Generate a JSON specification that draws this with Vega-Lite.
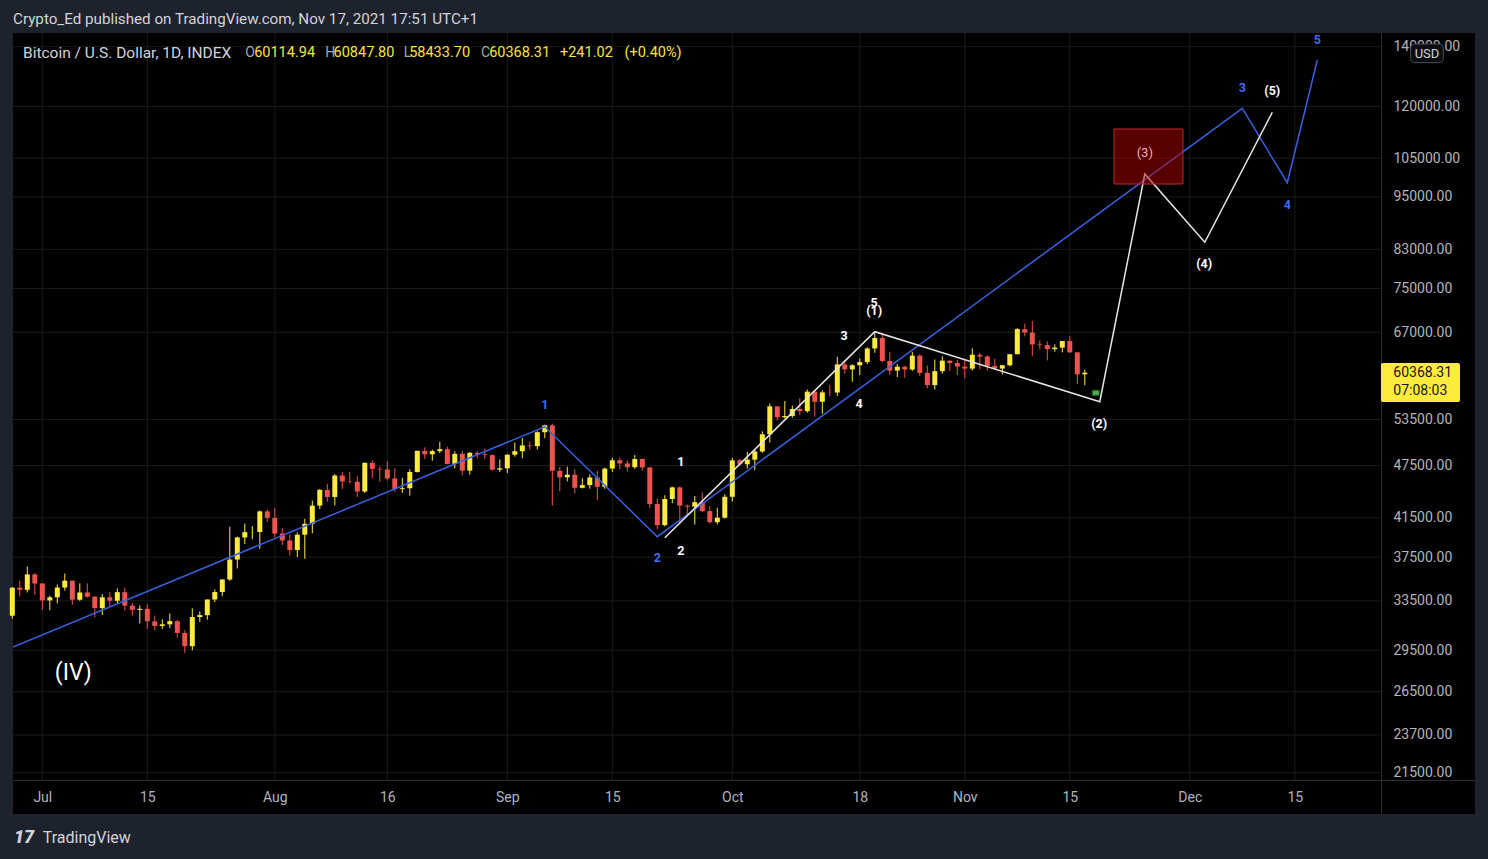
{
  "$schema": "https://vega.github.io/schema/vega-lite/v6.json",
  "autosize": {"type": "none"},
  "padding": {"left": 13, "top": 33, "right": 13, "bottom": 45},
  "width": 1462,
  "height": 781,
  "background": "#1e222d",
  "config": {
    "view": {"fill": "#000000", "stroke": null},
    "font": "Roboto",
    "text": {"font": "Roboto"},
    "axis": {
      "grid": false, "ticks": false, "tickSize": 0, "title": null,
      "labelFont": "Roboto", "labelFontSize": 14, "labelColor": "#b2b5be",
      "labelOverlap": false, "labelFlush": false,
      "domainColor": "#2a2e39", "domainWidth": 1
    }
  },
  "datasets": {
    "candles": [
      {"d": "2021-06-27", "o": 32240, "h": 34700, "l": 32000, "c": 34660},
      {"d": "2021-06-28", "o": 34660, "h": 35280, "l": 33880, "c": 34470},
      {"d": "2021-06-29", "o": 34470, "h": 36600, "l": 34230, "c": 35870},
      {"d": "2021-06-30", "o": 35870, "h": 36000, "l": 34020, "c": 35040},
      {"d": "2021-07-01", "o": 35040, "h": 35040, "l": 32720, "c": 33540},
      {"d": "2021-07-02", "o": 33540, "h": 33950, "l": 32700, "c": 33810},
      {"d": "2021-07-03", "o": 33810, "h": 34950, "l": 33300, "c": 34670},
      {"d": "2021-07-04", "o": 34670, "h": 35950, "l": 34400, "c": 35290},
      {"d": "2021-07-05", "o": 35290, "h": 35290, "l": 33170, "c": 33600},
      {"d": "2021-07-06", "o": 33600, "h": 35050, "l": 33500, "c": 34230},
      {"d": "2021-07-07", "o": 34230, "h": 35050, "l": 33780, "c": 33860},
      {"d": "2021-07-08", "o": 33860, "h": 33900, "l": 32100, "c": 32880},
      {"d": "2021-07-09", "o": 32880, "h": 34090, "l": 32300, "c": 33810},
      {"d": "2021-07-10", "o": 33810, "h": 34250, "l": 33030, "c": 33510},
      {"d": "2021-07-11", "o": 33510, "h": 34600, "l": 33300, "c": 34260},
      {"d": "2021-07-12", "o": 34260, "h": 34660, "l": 32680, "c": 33090},
      {"d": "2021-07-13", "o": 33090, "h": 33330, "l": 32250, "c": 32730},
      {"d": "2021-07-14", "o": 32730, "h": 33100, "l": 31600, "c": 32820},
      {"d": "2021-07-15", "o": 32820, "h": 33200, "l": 31150, "c": 31780},
      {"d": "2021-07-16", "o": 31780, "h": 32250, "l": 31030, "c": 31400},
      {"d": "2021-07-17", "o": 31400, "h": 31940, "l": 31170, "c": 31530},
      {"d": "2021-07-18", "o": 31530, "h": 32440, "l": 31220, "c": 31790},
      {"d": "2021-07-19", "o": 31790, "h": 31900, "l": 30480, "c": 30840},
      {"d": "2021-07-20", "o": 30840, "h": 31050, "l": 29300, "c": 29800},
      {"d": "2021-07-21", "o": 29800, "h": 32860, "l": 29480, "c": 32130},
      {"d": "2021-07-22", "o": 32130, "h": 32600, "l": 31720, "c": 32290},
      {"d": "2021-07-23", "o": 32290, "h": 33600, "l": 31900, "c": 33620},
      {"d": "2021-07-24", "o": 33620, "h": 34500, "l": 33400, "c": 34270},
      {"d": "2021-07-25", "o": 34270, "h": 35450, "l": 33900, "c": 35400},
      {"d": "2021-07-26", "o": 35400, "h": 40550, "l": 35270, "c": 37270},
      {"d": "2021-07-27", "o": 37270, "h": 39540, "l": 36420, "c": 39460},
      {"d": "2021-07-28", "o": 39460, "h": 40900, "l": 38800, "c": 40000},
      {"d": "2021-07-29", "o": 40000, "h": 40630, "l": 39280, "c": 40010},
      {"d": "2021-07-30", "o": 40010, "h": 42300, "l": 38320, "c": 42200},
      {"d": "2021-07-31", "o": 42200, "h": 42400, "l": 41100, "c": 41500},
      {"d": "2021-08-01", "o": 41500, "h": 42600, "l": 39450, "c": 39850},
      {"d": "2021-08-02", "o": 39850, "h": 40430, "l": 38700, "c": 39150},
      {"d": "2021-08-03", "o": 39150, "h": 39780, "l": 37650, "c": 38200},
      {"d": "2021-08-04", "o": 38200, "h": 39960, "l": 37510, "c": 39740},
      {"d": "2021-08-05", "o": 39740, "h": 41400, "l": 37350, "c": 40870},
      {"d": "2021-08-06", "o": 40870, "h": 43390, "l": 39880, "c": 42830},
      {"d": "2021-08-07", "o": 42830, "h": 44700, "l": 42450, "c": 44610},
      {"d": "2021-08-08", "o": 44610, "h": 45310, "l": 43260, "c": 43800},
      {"d": "2021-08-09", "o": 43800, "h": 46460, "l": 42850, "c": 46290},
      {"d": "2021-08-10", "o": 46290, "h": 46700, "l": 44720, "c": 45590},
      {"d": "2021-08-11", "o": 45590, "h": 46750, "l": 45340, "c": 45550},
      {"d": "2021-08-12", "o": 45550, "h": 46200, "l": 43800, "c": 44420},
      {"d": "2021-08-13", "o": 44420, "h": 47880, "l": 44250, "c": 47830},
      {"d": "2021-08-14", "o": 47830, "h": 48160, "l": 45990, "c": 47100},
      {"d": "2021-08-15", "o": 47100, "h": 47390, "l": 45550, "c": 47030},
      {"d": "2021-08-16", "o": 47030, "h": 48050, "l": 45700, "c": 45940},
      {"d": "2021-08-17", "o": 45940, "h": 47160, "l": 44400, "c": 44700},
      {"d": "2021-08-18", "o": 44700, "h": 46020, "l": 44250, "c": 44800},
      {"d": "2021-08-19", "o": 44800, "h": 47050, "l": 43950, "c": 46720},
      {"d": "2021-08-20", "o": 46720, "h": 49350, "l": 46650, "c": 49340},
      {"d": "2021-08-21", "o": 49340, "h": 49790, "l": 48300, "c": 48900},
      {"d": "2021-08-22", "o": 48900, "h": 49500, "l": 48100, "c": 49300},
      {"d": "2021-08-23", "o": 49300, "h": 50500, "l": 49050, "c": 49550},
      {"d": "2021-08-24", "o": 49550, "h": 49870, "l": 47650, "c": 47700},
      {"d": "2021-08-25", "o": 47700, "h": 49280, "l": 47150, "c": 48950},
      {"d": "2021-08-26", "o": 48950, "h": 49340, "l": 46330, "c": 46880},
      {"d": "2021-08-27", "o": 46880, "h": 49200, "l": 46390, "c": 49080},
      {"d": "2021-08-28", "o": 49080, "h": 49300, "l": 48400, "c": 48900},
      {"d": "2021-08-29", "o": 48900, "h": 49650, "l": 48300, "c": 48800},
      {"d": "2021-08-30", "o": 48800, "h": 48900, "l": 46900, "c": 46990},
      {"d": "2021-08-31", "o": 46990, "h": 48250, "l": 46720, "c": 47160},
      {"d": "2021-09-01", "o": 47160, "h": 48890, "l": 46600, "c": 48850},
      {"d": "2021-09-02", "o": 48850, "h": 50400, "l": 48600, "c": 49290},
      {"d": "2021-09-03", "o": 49290, "h": 51000, "l": 48400, "c": 50030},
      {"d": "2021-09-04", "o": 50030, "h": 50540, "l": 49500, "c": 49940},
      {"d": "2021-09-05", "o": 49940, "h": 51900, "l": 49500, "c": 51770},
      {"d": "2021-09-06", "o": 51770, "h": 52780, "l": 50970, "c": 52690},
      {"d": "2021-09-07", "o": 52690, "h": 52920, "l": 42830, "c": 46860},
      {"d": "2021-09-08", "o": 46860, "h": 47350, "l": 44450, "c": 46080},
      {"d": "2021-09-09", "o": 46080, "h": 47360, "l": 45600, "c": 46390},
      {"d": "2021-09-10", "o": 46390, "h": 47050, "l": 44200, "c": 44850},
      {"d": "2021-09-11", "o": 44850, "h": 45970, "l": 44770, "c": 45160},
      {"d": "2021-09-12", "o": 45160, "h": 46450, "l": 44750, "c": 46060},
      {"d": "2021-09-13", "o": 46060, "h": 46880, "l": 43450, "c": 44960},
      {"d": "2021-09-14", "o": 44960, "h": 47240, "l": 44730, "c": 47130},
      {"d": "2021-09-15", "o": 47130, "h": 48470, "l": 46730, "c": 48150},
      {"d": "2021-09-16", "o": 48150, "h": 48480, "l": 47050, "c": 47760},
      {"d": "2021-09-17", "o": 47760, "h": 48130, "l": 46770, "c": 47300},
      {"d": "2021-09-18", "o": 47300, "h": 48830, "l": 47080, "c": 48310},
      {"d": "2021-09-19", "o": 48310, "h": 48340, "l": 46860, "c": 47270},
      {"d": "2021-09-20", "o": 47270, "h": 47340, "l": 42560, "c": 43010},
      {"d": "2021-09-21", "o": 43010, "h": 43620, "l": 40300, "c": 40730},
      {"d": "2021-09-22", "o": 40730, "h": 44000, "l": 40600, "c": 43570},
      {"d": "2021-09-23", "o": 43570, "h": 44980, "l": 43100, "c": 44900},
      {"d": "2021-09-24", "o": 44900, "h": 45000, "l": 40800, "c": 42830},
      {"d": "2021-09-25", "o": 42830, "h": 42950, "l": 41700, "c": 42720},
      {"d": "2021-09-26", "o": 42720, "h": 43920, "l": 40800, "c": 43210},
      {"d": "2021-09-27", "o": 43210, "h": 44320, "l": 42110, "c": 42230},
      {"d": "2021-09-28", "o": 42230, "h": 42780, "l": 40900, "c": 41040},
      {"d": "2021-09-29", "o": 41040, "h": 42600, "l": 40800, "c": 41520},
      {"d": "2021-09-30", "o": 41520, "h": 44100, "l": 41430, "c": 43820},
      {"d": "2021-10-01", "o": 43820, "h": 48450, "l": 43300, "c": 48140},
      {"d": "2021-10-02", "o": 48140, "h": 48350, "l": 47450, "c": 47660},
      {"d": "2021-10-03", "o": 47660, "h": 49230, "l": 47130, "c": 48230},
      {"d": "2021-10-04", "o": 48230, "h": 49500, "l": 46930, "c": 49250},
      {"d": "2021-10-05", "o": 49250, "h": 51900, "l": 49080, "c": 51490},
      {"d": "2021-10-06", "o": 51490, "h": 55750, "l": 50400, "c": 55340},
      {"d": "2021-10-07", "o": 55340, "h": 55340, "l": 53400, "c": 53800},
      {"d": "2021-10-08", "o": 53800, "h": 56100, "l": 53650, "c": 53970},
      {"d": "2021-10-09", "o": 53970, "h": 55450, "l": 53720, "c": 54960},
      {"d": "2021-10-10", "o": 54960, "h": 56530, "l": 54100, "c": 54660},
      {"d": "2021-10-11", "o": 54660, "h": 57800, "l": 54440, "c": 57480},
      {"d": "2021-10-12", "o": 57480, "h": 57680, "l": 53880, "c": 56000},
      {"d": "2021-10-13", "o": 56000, "h": 57700, "l": 54270, "c": 57370},
      {"d": "2021-10-14", "o": 57370, "h": 58500, "l": 56850, "c": 57350},
      {"d": "2021-10-15", "o": 57350, "h": 62900, "l": 56850, "c": 61670},
      {"d": "2021-10-16", "o": 61670, "h": 62340, "l": 60200, "c": 60880},
      {"d": "2021-10-17", "o": 60880, "h": 61700, "l": 58960, "c": 61530},
      {"d": "2021-10-18", "o": 61530, "h": 62620, "l": 60000, "c": 62040},
      {"d": "2021-10-19", "o": 62040, "h": 64450, "l": 61700, "c": 64260},
      {"d": "2021-10-20", "o": 64260, "h": 67000, "l": 63550, "c": 66010},
      {"d": "2021-10-21", "o": 66010, "h": 66800, "l": 62000, "c": 62210},
      {"d": "2021-10-22", "o": 62210, "h": 63700, "l": 60000, "c": 60690},
      {"d": "2021-10-23", "o": 60690, "h": 61730, "l": 59700, "c": 61300},
      {"d": "2021-10-24", "o": 61300, "h": 61450, "l": 59580, "c": 60860},
      {"d": "2021-10-25", "o": 60860, "h": 63700, "l": 60650, "c": 63080},
      {"d": "2021-10-26", "o": 63080, "h": 63280, "l": 59870, "c": 60330},
      {"d": "2021-10-27", "o": 60330, "h": 61500, "l": 58000, "c": 58460},
      {"d": "2021-10-28", "o": 58460, "h": 62450, "l": 57800, "c": 60600},
      {"d": "2021-10-29", "o": 60600, "h": 62960, "l": 60200, "c": 62270},
      {"d": "2021-10-30", "o": 62270, "h": 62300, "l": 60700, "c": 61890},
      {"d": "2021-10-31", "o": 61890, "h": 62400, "l": 60000, "c": 61320},
      {"d": "2021-11-01", "o": 61320, "h": 62450, "l": 59500, "c": 61000},
      {"d": "2021-11-02", "o": 61000, "h": 64270, "l": 60700, "c": 63220},
      {"d": "2021-11-03", "o": 63220, "h": 63500, "l": 60900, "c": 62940},
      {"d": "2021-11-04", "o": 62940, "h": 63100, "l": 60700, "c": 61440},
      {"d": "2021-11-05", "o": 61440, "h": 62600, "l": 60750, "c": 61010},
      {"d": "2021-11-06", "o": 61010, "h": 61550, "l": 60100, "c": 61530},
      {"d": "2021-11-07", "o": 61530, "h": 63300, "l": 61350, "c": 63310},
      {"d": "2021-11-08", "o": 63310, "h": 67750, "l": 63300, "c": 67550},
      {"d": "2021-11-09", "o": 67550, "h": 68500, "l": 66300, "c": 66940},
      {"d": "2021-11-10", "o": 66940, "h": 69000, "l": 63000, "c": 64930},
      {"d": "2021-11-11", "o": 64930, "h": 65600, "l": 64100, "c": 64810},
      {"d": "2021-11-12", "o": 64810, "h": 65450, "l": 62300, "c": 64150},
      {"d": "2021-11-13", "o": 64150, "h": 64950, "l": 63700, "c": 64400},
      {"d": "2021-11-14", "o": 64400, "h": 65500, "l": 63600, "c": 65500},
      {"d": "2021-11-15", "o": 65500, "h": 66300, "l": 63500, "c": 63620},
      {"d": "2021-11-16", "o": 63620, "h": 63620, "l": 58600, "c": 60110},
      {"d": "2021-11-17", "o": 60114.94, "h": 60847.8, "l": 58433.7, "c": 60368.31}
    ],
    "gridY": [
      {"p": 21500}, {"p": 23700}, {"p": 26500}, {"p": 29500}, {"p": 33500}, {"p": 37500},
      {"p": 41500}, {"p": 47500}, {"p": 53500}, {"p": 67000}, {"p": 75000}, {"p": 83000},
      {"p": 95000}, {"p": 105000}, {"p": 120000}, {"p": 140000}
    ],
    "gridX": [
      {"d": "2021-07-01"}, {"d": "2021-07-15"}, {"d": "2021-08-01"}, {"d": "2021-08-16"},
      {"d": "2021-09-01"}, {"d": "2021-09-15"}, {"d": "2021-10-01"}, {"d": "2021-10-18"},
      {"d": "2021-11-01"}, {"d": "2021-11-15"}, {"d": "2021-12-01"}, {"d": "2021-12-15"}
    ],
    "blueWave": [
      {"d": "2021-06-27T02:14:00Z", "p": 29740},
      {"d": "2021-09-06T00:00:00Z", "p": 52500},
      {"d": "2021-09-21T00:00:00Z", "p": 39530},
      {"d": "2021-12-08T00:00:00Z", "p": 119420},
      {"d": "2021-12-14T00:00:00Z", "p": 98560},
      {"d": "2021-12-18T00:00:00Z", "p": 135280}
    ],
    "whiteWave": [
      {"d": "2021-09-22T00:00:00Z", "p": 39430},
      {"d": "2021-10-20T00:00:00Z", "p": 67100},
      {"d": "2021-11-19T00:00:00Z", "p": 56010},
      {"d": "2021-11-25T00:00:00Z", "p": 100800},
      {"d": "2021-12-03T00:00:00Z", "p": 84510},
      {"d": "2021-12-12T00:00:00Z", "p": 118200}
    ],
    "blueLabels": [
      {"d": "2021-09-06T00:00:00Z", "p": 55530, "t": "1"},
      {"d": "2021-09-21T00:00:00Z", "p": 37390, "t": "2"},
      {"d": "2021-12-08T00:00:00Z", "p": 125940, "t": "3"},
      {"d": "2021-12-14T00:00:00Z", "p": 93050, "t": "4"},
      {"d": "2021-12-18T00:00:00Z", "p": 142440, "t": "5"}
    ],
    "whiteLabels": [
      {"d": "2021-09-24T03:00:00Z", "p": 47900, "t": "1"},
      {"d": "2021-09-24T03:00:00Z", "p": 38130, "t": "2"},
      {"d": "2021-10-15T22:00:00Z", "p": 66360, "t": "3"},
      {"d": "2021-10-17T22:00:00Z", "p": 55630, "t": "4"},
      {"d": "2021-10-19T22:00:00Z", "p": 72200, "t": "5"},
      {"d": "2021-10-19T22:00:00Z", "p": 70780, "t": "(1)"},
      {"d": "2021-11-18T22:00:00Z", "p": 52880, "t": "(2)"},
      {"d": "2021-12-02T22:00:00Z", "p": 79910, "t": "(4)"},
      {"d": "2021-12-12T00:00:00Z", "p": 124880, "t": "(5)"}
    ],
    "legendKeys": [
      {"d": "2021-07-28T01:36:00Z", "p": 137740, "t": "O"},
      {"d": "2021-08-07T17:36:00Z", "p": 137740, "t": "H"},
      {"d": "2021-08-18T04:29:00Z", "p": 137740, "t": "L"},
      {"d": "2021-08-28T11:50:00Z", "p": 137740, "t": "C"}
    ],
    "legendValues": [
      {"d": "2021-07-29T06:00:00Z", "p": 137740, "t": "60114.94"},
      {"d": "2021-08-08T20:00:00Z", "p": 137740, "t": "60847.80"},
      {"d": "2021-08-18T22:00:00Z", "p": 137740, "t": "58433.70"},
      {"d": "2021-08-29T14:00:00Z", "p": 137740, "t": "60368.31"},
      {"d": "2021-09-08T00:38:00Z", "p": 137740, "t": "+241.02"},
      {"d": "2021-09-16T15:02:00Z", "p": 137740, "t": "(+0.40%)"}
    ]
  },
  "layer": [
    {
      "data": {"name": "gridY"},
      "mark": {"type": "rule", "color": "#1b1b1b", "strokeWidth": 1},
      "encoding": {
        "y": {"field": "p", "type": "quantitative"},
        "x": {"datum": {"year": 2021, "month": 6, "date": 27, "hours": 2, "minutes": 14, "utc": true}, "type": "temporal"},
        "x2": {"datum": {"year": 2021, "month": 12, "date": 26, "hours": 11, "minutes": 42, "utc": true}}
      }
    },
    {
      "data": {"name": "gridX"},
      "mark": {"type": "rule", "color": "#1b1b1b", "strokeWidth": 1},
      "encoding": {
        "x": {"field": "d", "type": "temporal"},
        "y": {"datum": 145039, "type": "quantitative"},
        "y2": {"datum": 21100}
      }
    },
    {
      "data": {"name": "candles"},
      "mark": {"type": "rule", "strokeWidth": 1},
      "encoding": {
        "x": {
          "field": "d", "type": "temporal",
          "scale": {"type": "utc", "nice": false, "padding": 0, "domain": [{"year": 2021, "month": 6, "date": 27, "hours": 2, "minutes": 14, "utc": true}, {"year": 2022, "month": 1, "date": 8, "hours": 0, "minutes": 39, "utc": true}]},
          "axis": {
            "orient": "bottom", "offset": -34, "title": null, "grid": false, "ticks": false,
            "values": [
              {"year": 2021, "month": 7, "date": 1, "utc": true}, {"year": 2021, "month": 7, "date": 15, "utc": true},
              {"year": 2021, "month": 8, "date": 1, "utc": true}, {"year": 2021, "month": 8, "date": 16, "utc": true},
              {"year": 2021, "month": 9, "date": 1, "utc": true}, {"year": 2021, "month": 9, "date": 15, "utc": true},
              {"year": 2021, "month": 10, "date": 1, "utc": true}, {"year": 2021, "month": 10, "date": 18, "utc": true},
              {"year": 2021, "month": 11, "date": 1, "utc": true}, {"year": 2021, "month": 11, "date": 15, "utc": true},
              {"year": 2021, "month": 12, "date": 1, "utc": true}, {"year": 2021, "month": 12, "date": 15, "utc": true}
            ],
            "labelExpr": "utcdate(datum.value) == 1 ? utcFormat(datum.value, '%b') : utcFormat(datum.value, '%d')",
            "labelPadding": 10, "labelFontSize": 14
          }
        },
        "y": {
          "field": "l", "type": "quantitative",
          "scale": {"type": "log", "domain": [19327, 145039], "nice": false, "padding": 0},
          "axis": {
            "orient": "right", "offset": -94, "title": null, "grid": false, "ticks": false,
            "values": [21500, 23700, 26500, 29500, 33500, 37500, 41500, 47500, 53500, 67000, 75000, 83000, 95000, 105000, 120000, 140000],
            "format": ".2f", "labelPadding": 12
          }
        },
        "y2": {"field": "h"},
        "color": {"condition": {"test": "datum.c >= datum.o", "value": "#ffeb3b"}, "value": "#ef5350"}
      }
    },
    {
      "data": {"name": "candles"},
      "mark": {"type": "bar", "size": 5},
      "encoding": {
        "x": {"field": "d", "type": "temporal"},
        "y": {"field": "o", "type": "quantitative"},
        "y2": {"field": "c"},
        "color": {"condition": {"test": "datum.c >= datum.o", "value": "#ffeb3b"}, "value": "#ef5350"}
      }
    },
    {
      "data": {"name": "blueWave"},
      "mark": {"type": "line", "color": "#3762e0", "strokeWidth": 1.5, "clip": true},
      "encoding": {
        "x": {"field": "d", "type": "temporal"},
        "y": {"field": "p", "type": "quantitative"}
      }
    },
    {
      "data": {"name": "whiteWave"},
      "mark": {"type": "line", "color": "#e6e6e6", "strokeWidth": 1.5},
      "encoding": {
        "x": {"field": "d", "type": "temporal"},
        "y": {"field": "p", "type": "quantitative"}
      }
    },
    {
      "data": {"values": [{"x1": "2021-11-20T21:22:00Z", "x2": "2021-11-30T02:10:00Z", "top": 113210, "bottom": 98230}]},
      "mark": {"type": "rect", "fill": "#b00000", "fillOpacity": 0.5, "stroke": "#c62828", "strokeWidth": 1},
      "encoding": {
        "x": {"field": "x1", "type": "temporal"},
        "x2": {"field": "x2"},
        "y": {"field": "top", "type": "quantitative"},
        "y2": {"field": "bottom"}
      }
    },
    {
      "data": {"values": [{"x1": "2021-11-18T00:00:00Z", "x2": "2021-11-18T22:20:00Z", "top": 57680, "bottom": 56940}]},
      "mark": {"type": "rect", "fill": "#4caf50", "stroke": "#1b5e20", "strokeWidth": 1},
      "encoding": {
        "x": {"field": "x1", "type": "temporal"},
        "x2": {"field": "x2"},
        "y": {"field": "top", "type": "quantitative"},
        "y2": {"field": "bottom"}
      }
    },
    {
      "data": {"name": "blueLabels"},
      "mark": {"type": "text", "color": "#3b6ef0", "fontSize": 12.5, "fontWeight": "bold", "align": "center", "baseline": "middle"},
      "encoding": {
        "x": {"field": "d", "type": "temporal"},
        "y": {"field": "p", "type": "quantitative"},
        "text": {"field": "t"}
      }
    },
    {
      "data": {"name": "whiteLabels"},
      "mark": {"type": "text", "color": "#ffffff", "fontSize": 12.5, "fontWeight": "bold", "align": "center", "baseline": "middle"},
      "encoding": {
        "x": {"field": "d", "type": "temporal"},
        "y": {"field": "p", "type": "quantitative"},
        "text": {"field": "t"}
      }
    },
    {
      "data": {"values": [{"d": "2021-11-25T00:00:00Z", "p": 106410, "t": "(3)"}]},
      "mark": {"type": "text", "color": "#f3b3b3", "fontSize": 13, "align": "center", "baseline": "middle"},
      "encoding": {
        "x": {"field": "d", "type": "temporal"},
        "y": {"field": "p", "type": "quantitative"},
        "text": {"field": "t"}
      }
    },
    {
      "data": {"values": [{"d": "2021-07-05T03:12:00Z", "p": 27790, "t": "(IV)"}]},
      "mark": {"type": "text", "color": "#ffffff", "fontSize": 23, "align": "center", "baseline": "middle"},
      "encoding": {
        "x": {"field": "d", "type": "temporal"},
        "y": {"field": "p", "type": "quantitative"},
        "text": {"field": "t"}
      }
    },
    {
      "data": {"values": [{"d": "2021-06-27T02:14:00Z", "p": 150375, "t": "Crypto_Ed published on TradingView.com, Nov 17, 2021 17:51 UTC+1"}]},
      "mark": {"type": "text", "color": "#d1d4dc", "fontSize": 15.2, "align": "left", "baseline": "middle"},
      "encoding": {
        "x": {"field": "d", "type": "temporal"},
        "y": {"field": "p", "type": "quantitative"},
        "text": {"field": "t"}
      }
    },
    {
      "data": {"values": [{"d": "2021-06-28T10:14:00Z", "p": 137740, "t": "Bitcoin / U.S. Dollar, 1D, INDEX"}]},
      "mark": {"type": "text", "color": "#d1d4dc", "fontSize": 15.5, "align": "left", "baseline": "middle"},
      "encoding": {
        "x": {"field": "d", "type": "temporal"},
        "y": {"field": "p", "type": "quantitative"},
        "text": {"field": "t"}
      }
    },
    {
      "data": {"name": "legendKeys"},
      "mark": {"type": "text", "color": "#a3a6af", "fontSize": 14, "align": "left", "baseline": "middle"},
      "encoding": {
        "x": {"field": "d", "type": "temporal"},
        "y": {"field": "p", "type": "quantitative"},
        "text": {"field": "t"}
      }
    },
    {
      "data": {"name": "legendValues"},
      "mark": {"type": "text", "color": "#f7e53b", "fontSize": 14.5, "align": "left", "baseline": "middle"},
      "encoding": {
        "x": {"field": "d", "type": "temporal"},
        "y": {"field": "p", "type": "quantitative"},
        "text": {"field": "t"}
      }
    },
    {
      "data": {"values": [{"x1": "2021-12-26T11:42:00Z", "x2": "2022-01-06T00:39:00Z", "top": 61888, "bottom": 55966}]},
      "mark": {"type": "rect", "fill": "#ffeb3b", "cornerRadius": 2},
      "encoding": {
        "x": {"field": "x1", "type": "temporal"},
        "x2": {"field": "x2"},
        "y": {"field": "top", "type": "quantitative"},
        "y2": {"field": "bottom"}
      }
    },
    {
      "data": {"values": [{"d": "2021-12-28T03:12:00Z", "p": 60368.31, "t": "60368.31"}, {"d": "2021-12-28T03:12:00Z", "p": 57620, "t": "07:08:03"}]},
      "mark": {"type": "text", "color": "#131722", "fontSize": 14, "align": "left", "baseline": "middle"},
      "encoding": {
        "x": {"field": "d", "type": "temporal"},
        "y": {"field": "p", "type": "quantitative"},
        "text": {"field": "t"}
      }
    },
    {
      "data": {"values": [{"x1": "2021-12-30T10:52:00Z", "x2": "2022-01-03T19:12:00Z", "top": 140979, "bottom": 134337}]},
      "mark": {"type": "rect", "fill": "#0c0d10", "stroke": "#4a4e58", "strokeWidth": 1, "cornerRadius": 4},
      "encoding": {
        "x": {"field": "x1", "type": "temporal"},
        "x2": {"field": "x2"},
        "y": {"field": "top", "type": "quantitative"},
        "y2": {"field": "bottom"}
      }
    },
    {
      "data": {"values": [{"d": "2022-01-01T15:03:00Z", "p": 137564, "t": "USD"}]},
      "mark": {"type": "text", "color": "#d1d4dc", "fontSize": 13, "align": "center", "baseline": "middle"},
      "encoding": {
        "x": {"field": "d", "type": "temporal"},
        "y": {"field": "p", "type": "quantitative"},
        "text": {"field": "t"}
      }
    },
    {
      "data": {"values": [{"d": "2021-06-27T05:26:00Z", "p": 18165, "t": "17"}]},
      "mark": {"type": "text", "color": "#d1d4dc", "fontSize": 18, "fontWeight": 900, "fontStyle": "italic", "align": "left", "baseline": "middle"},
      "encoding": {
        "x": {"field": "d", "type": "temporal"},
        "y": {"field": "p", "type": "quantitative"},
        "text": {"field": "t"}
      }
    },
    {
      "data": {"values": [{"d": "2021-07-01T01:17:00Z", "p": 18165, "t": "TradingView"}]},
      "mark": {"type": "text", "color": "#d1d4dc", "fontSize": 16, "align": "left", "baseline": "middle"},
      "encoding": {
        "x": {"field": "d", "type": "temporal"},
        "y": {"field": "p", "type": "quantitative"},
        "text": {"field": "t"}
      }
    }
  ]
}
